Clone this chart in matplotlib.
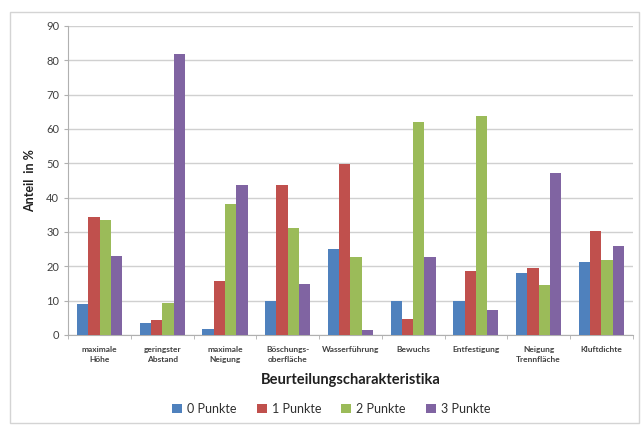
import matplotlib
matplotlib.use('Agg')
import matplotlib.pyplot as plt
from matplotlib.patches import Rectangle
import numpy as np

plt.rcParams['font.family'] = ['Lato', 'DejaVu Sans']

categories = ['maximale\nHöhe', 'geringster\nAbstand', 'maximale\nNeigung',
              'Böschungs-\noberfläche', 'Wasserführung', 'Bewuchs',
              'Entfestigung', 'Neigung\nTrennfläche', 'Kluftdichte']
series_names = ['0 Punkte', '1 Punkte', '2 Punkte', '3 Punkte']
punkte_0 = [9.0, 3.6, 1.7, 9.8, 25.1, 9.8, 9.8, 18.0, 21.2]
punkte_1 = [34.2, 4.4, 15.6, 43.6, 49.8, 4.6, 18.5, 19.5, 30.2]
punkte_2 = [33.4, 9.2, 38.1, 31.1, 22.8, 62.1, 63.7, 14.6, 21.9]
punkte_3 = [22.9, 81.9, 43.8, 14.8, 1.5, 22.6, 7.3, 47.2, 25.8]
colors = ['#4F81BD', '#C0504D', '#9BBB59', '#8064A2']

fig = plt.figure(figsize=(6.43, 4.25), dpi=100)
# light frame around the whole chart
fig.patches.append(Rectangle((0.016, 0.005), 0.978, 0.966, transform=fig.transFigure,
                             fill=False, edgecolor='#d4d4d4', linewidth=1.0))
ax = fig.add_axes([0.106, 0.212, 0.878, 0.727])

x = np.arange(len(categories))
width = 0.18
for i, vals in enumerate([punkte_0, punkte_1, punkte_2, punkte_3]):
    ax.bar(x + (i - 1.5) * width, vals, width, color=colors[i],
           label=series_names[i], zorder=3)

ax.set_xlim(-0.5, len(categories) - 0.5)
ax.set_ylim(0, 90)
ax.set_yticks(range(0, 91, 10))
ax.yaxis.grid(True, color='#d0d0d0', linewidth=1.0, zorder=0)
ax.set_xticks(x)
ax.set_xticklabels(categories, fontsize=6, fontweight='bold', color='#404040',
                   linespacing=1.5)
ax.tick_params(axis='x', length=0, pad=8)
ax.tick_params(axis='y', labelsize=8, colors='#404040', length=3, color='#b0b0b0')
ax.set_xticks(np.arange(-0.5, len(categories), 1), minor=True)
ax.tick_params(axis='x', which='minor', length=3, color='#b0b0b0')

for side in ['top', 'right']:
    ax.spines[side].set_visible(False)
for side in ['left', 'bottom']:
    ax.spines[side].set_color('#b0b0b0')

ax.set_ylabel('Anteil  in %', fontsize=9, fontweight='bold', color='#202020', labelpad=7)
ax.set_xlabel('Beurteilungscharakteristika', fontsize=10.5, fontweight='bold',
              color='#202020', labelpad=7)

ax.legend(loc='center', bbox_to_anchor=(0.466, -0.24), ncol=4, frameon=False,
          fontsize=9, handlelength=0.8, handleheight=0.8, columnspacing=1.6,
          handletextpad=0.4, labelcolor='#303030')

fig.savefig('out.png', dpi=100)
